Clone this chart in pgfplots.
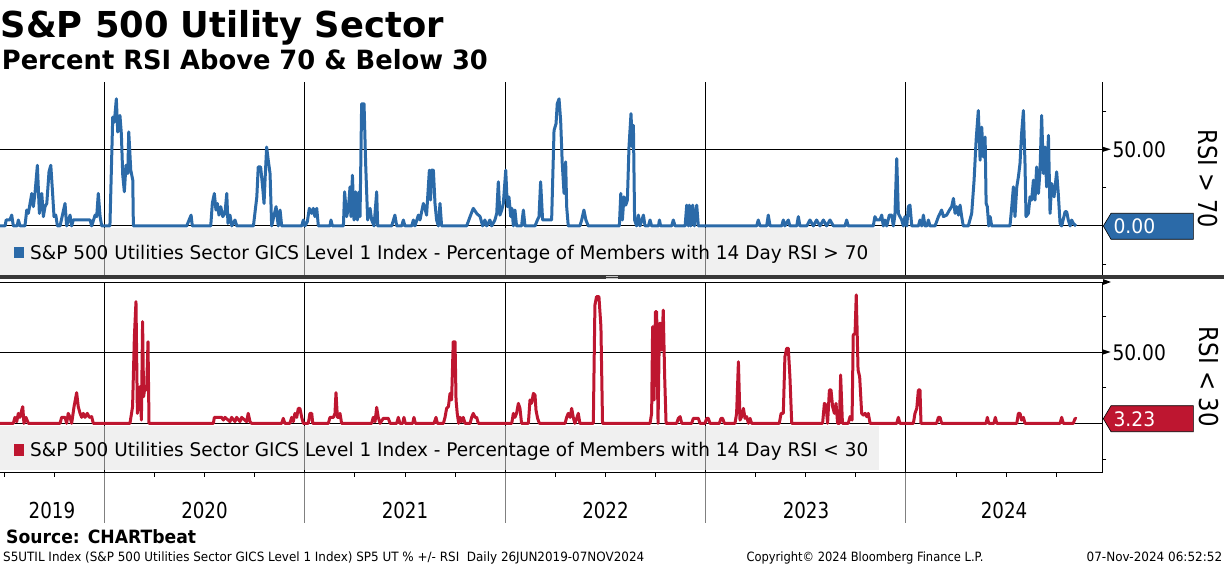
\documentclass[border=0pt]{standalone}
\usepackage{pgfplots}
\pgfplotsset{compat=1.18}
\usepackage{fontspec}
\usetikzlibrary{arrows.meta}
\setmainfont{DejaVu Sans}
\definecolor{bbblue}{RGB}{43,106,168}
\definecolor{bbred}{RGB}{190,22,48}
\definecolor{bbgray}{RGB}{227,227,227}
% text squeezed to a given width, natural height
\newcommand{\fitt}[3]{\resizebox{#1}{\height}{\fontsize{#2}{#2}\selectfont #3}}
\pgfplotsset{
  panel/.style={
    scale only axis, width=1102.3pt, anchor=south west,
    xmin=2019.4795, xmax=2024.98,
    axis x line*=bottom, axis y line*=right,
    x axis line style={-, line width=1pt},
    y axis line style={-, line width=1pt},
    xtick={2020,2021,2022,2023,2024}, xticklabels={},
    ytick={0,50}, yticklabels={},
    minor ytick={-25,25,75},
    xmajorgrids, ymajorgrids,
    major grid style={black, line width=1pt},
    major tick length=0pt, minor tick length=4pt, tick align=outside,
    tick style={black, line width=0.8pt},
  },
}
\begin{document}
\begin{tikzpicture}
\path[use as bounding box] (0pt,0pt) rectangle (1224pt,566pt);

% ---- top panel: RSI > 70
\begin{axis}[panel, at={(0pt,290.8pt)}, height=193.2pt,
  ymin=-32.1, ymax=93.9, x axis line style={draw=none}]
\addplot[bbblue, line width=3pt, line join=round] coordinates {
(2019.480,0) (2019.505,0) (2019.510,3.9) (2019.529,3.9) (2019.538,7.1) (2019.546,0) (2019.565,0) (2019.571,3.9) (2019.580,0) (2019.604,0) (2019.613,10.4) (2019.621,8.2) (2019.638,21.2) (2019.646,12.6) (2019.654,21.2) (2019.666,39.6) (2019.676,8.2) (2019.688,21.2) (2019.696,6.1) (2019.704,12.6) (2019.713,14.7) (2019.724,35.3) (2019.733,39.6) (2019.741,23.4) (2019.749,6.1) (2019.758,7.1) (2019.766,0) (2019.779,0) (2019.804,14.7) (2019.812,0) (2019.829,7.1) (2019.837,0) (2019.845,3.9) (2019.929,3.9) (2019.937,0) (2019.954,7.1) (2019.962,6.1) (2019.970,21.2) (2019.979,6.1) (2019.987,0) (2020.028,0) (2020.042,71.0) (2020.050,67.7) (2020.060,82.9) (2020.067,61.3) (2020.078,72.1) (2020.085,60.2) (2020.092,33.1) (2020.100,22.3) (2020.108,39.6) (2020.117,34.2) (2020.122,61.3) (2020.132,36.4) (2020.142,29.9) (2020.145,0) (2020.411,0) (2020.433,7.1) (2020.439,0) (2020.531,0) (2020.539,14.7) (2020.549,21.2) (2020.557,10.4) (2020.564,14.7) (2020.572,7.1) (2020.581,12.6) (2020.591,6.1) (2020.602,8.2) (2020.611,21.2) (2020.617,1.7) (2020.627,7.1) (2020.636,0) (2020.652,3.9) (2020.661,0) (2020.744,0) (2020.761,19.0) (2020.768,38.5) (2020.780,38.5) (2020.790,25.5) (2020.797,14.7) (2020.802,29.9) (2020.810,51.5) (2020.818,42.9) (2020.827,34.2) (2020.835,0) (2020.857,12.6) (2020.868,0) (2020.877,10.4) (2020.885,0) (2020.985,0) (2020.993,3.9)
(2021.001,0) (2021.013,2.8) (2021.023,11.5) (2021.035,8.2) (2021.043,11.5) (2021.051,6.1) (2021.060,11.5) (2021.068,0) (2021.126,0) (2021.131,3.9) (2021.138,0) (2021.193,0) (2021.199,22.3) (2021.209,6.1) (2021.218,11.5) (2021.226,25.5) (2021.231,6.1) (2021.238,33.1) (2021.246,3.9) (2021.254,22.3) (2021.263,3.9) (2021.271,22.3) (2021.276,6.1) (2021.284,79.7) (2021.296,79.7) (2021.304,40.7) (2021.314,3.9) (2021.326,11.5) (2021.334,3.9) (2021.346,0) (2021.359,22.3) (2021.364,0) (2021.434,0) (2021.450,7.1) (2021.459,0) (2021.484,0) (2021.492,3.9) (2021.500,0) (2021.534,0) (2021.542,3.9) (2021.550,0) (2021.567,7.1) (2021.575,3.9) (2021.592,14.7) (2021.600,11.5) (2021.608,7.1) (2021.622,36.4) (2021.628,16.9) (2021.633,36.4) (2021.642,36.4) (2021.650,14.7) (2021.658,3.9) (2021.667,0) (2021.675,14.7) (2021.683,0) (2021.808,0) (2021.825,6.1) (2021.841,11.5) (2021.858,8.2) (2021.875,6.1) (2021.888,0) (2021.899,3.9) (2021.908,0) (2021.924,3.9) (2021.933,0) (2021.949,3.9) (2021.958,8.2) (2021.966,28.8) (2021.974,7.1) (2021.983,10.4) (2021.991,14.7) (2022.003,36.4) (2022.011,12.6) (2022.019,19.0) (2022.028,6.1) (2022.034,11.5) (2022.041,0) (2022.049,10.4) (2022.057,0) (2022.082,0) (2022.091,10.4) (2022.099,0) (2022.149,0) (2022.161,3.9) (2022.169,6.1) (2022.177,28.8) (2022.187,3.9) (2022.232,3.9) (2022.244,62.3) (2022.254,66.7) (2022.260,79.7) (2022.269,82.9) (2022.277,68.8) (2022.285,40.7) (2022.294,21.2) (2022.302,41.8) (2022.307,12.6) (2022.315,0) (2022.373,0) (2022.382,3.9) (2022.393,10.4) (2022.403,3.9) (2022.415,0)
(2022.570,0) (2022.577,21.2) (2022.585,3.9) (2022.593,19.0) (2022.602,13.6) (2022.610,16.9) (2022.618,51.5) (2022.628,73.2) (2022.635,51.5) (2022.640,65.6) (2022.646,3.9) (2022.656,0) (2022.665,7.1) (2022.673,0) (2022.690,7.1) (2022.698,0) (2022.715,0) (2022.723,3.9) (2022.731,0) (2022.765,0) (2022.770,3.9) (2022.776,0) (2022.831,0) (2022.839,3.9) (2022.848,0) (2022.898,0) (2022.906,13.6) (2022.914,0) (2022.919,13.6) (2022.926,0) (2022.936,13.6) (2022.944,0) (2022.956,13.6) (2022.964,0) (2023.255,0) (2023.263,3.9) (2023.272,0) (2023.305,0) (2023.313,7.1) (2023.322,0) (2023.380,0) (2023.388,3.9) (2023.396,0) (2023.413,3.9) (2023.421,0) (2023.455,0) (2023.463,6.1) (2023.471,0) (2023.505,0) (2023.521,3.9) (2023.538,0) (2023.554,3.9) (2023.571,0) (2023.588,3.9) (2023.604,0) (2023.621,3.9) (2023.638,0) (2023.696,0) (2023.704,3.9) (2023.712,0) (2023.837,0) (2023.845,6.1) (2023.854,3.9) (2023.870,3.9) (2023.879,7.1) (2023.887,0) (2023.895,3.9) (2023.904,0) (2023.917,7.1) (2023.929,7.1) (2023.937,0) (2023.945,7.1) (2023.954,43.9) (2023.962,8.2) (2023.970,6.1)
(2023.979,3.9) (2023.987,0) (2023.995,6.1) (2024.004,0) (2024.012,12.6) (2024.020,13.6) (2024.029,0) (2024.062,0) (2024.070,3.9) (2024.079,0) (2024.087,7.1) (2024.095,0) (2024.104,0) (2024.112,3.9) (2024.120,0) (2024.145,0) (2024.162,6.1) (2024.178,10.4) (2024.187,6.1) (2024.203,7.1) (2024.217,10.4) (2024.228,12.6) (2024.237,18.0) (2024.245,8.2) (2024.253,12.6) (2024.262,7.1) (2024.270,13.6) (2024.278,6.1) (2024.286,0) (2024.311,0) (2024.328,8.2) (2024.340,29.9) (2024.350,55.8) (2024.361,75.3) (2024.370,42.9) (2024.378,64.5) (2024.386,45.0) (2024.395,58.0) (2024.400,14.7) (2024.406,12.6) (2024.413,0) (2024.420,6.1) (2024.428,0) (2024.519,0) (2024.528,12.6) (2024.536,25.5) (2024.544,6.1) (2024.553,25.5) (2024.561,32.0) (2024.569,40.7) (2024.577,60.2) (2024.586,75.3) (2024.594,40.7) (2024.599,6.1) (2024.611,8.2) (2024.619,19.0) (2024.627,16.9) (2024.636,29.9) (2024.644,16.9) (2024.652,38.5) (2024.661,21.2) (2024.669,36.4) (2024.677,72.1) (2024.686,34.2) (2024.694,51.5) (2024.702,25.5) (2024.711,59.1) (2024.719,8.2) (2024.727,27.7) (2024.739,19.0) (2024.752,35.3) (2024.760,21.2) (2024.769,1.7) (2024.777,0) (2024.794,9.3) (2024.802,9.3) (2024.810,3.9) (2024.819,0) (2024.827,3.9) (2024.835,1.7) (2024.849,0)
};
\end{axis}
\fill[bbgray, fill opacity=0.53] (0pt,291pt) rectangle (880pt,337.5pt);
\fill[bbblue] (14pt,307.7pt) rectangle (23.5pt,319.3pt);
\node[anchor=base west, inner sep=0pt] at (30pt,306.7pt) {\fitt{838pt}{18.8pt}{S\&P 500 Utilities Sector GICS Level 1 Index - Percentage of Members with 14 Day RSI > 70}};

% ---- bottom panel: RSI < 30
\begin{axis}[panel, at={(0pt,93.3pt)}, height=190.7pt,
  ymin=-34.6, ymax=99.1,
  minor xtick={2019.5,2019.75,2020.25,2020.5,2020.75,2021.25,2021.5,2021.75,2022.25,2022.5,2022.75,2023.25,2023.5,2023.75,2024.25,2024.5,2024.75}]
\addplot[bbred, line width=3pt, line join=round] coordinates {
(2019.480,0) (2019.546,0) (2019.554,4.2) (2019.563,1.2) (2019.571,7.0) (2019.579,4.2) (2019.588,9.3) (2019.593,11.7) (2019.599,0) (2019.609,4.2) (2019.621,0) (2019.779,0) (2019.787,4.2) (2019.804,4.2) (2019.812,0) (2019.820,7.0) (2019.829,4.2) (2019.837,0) (2019.849,11.7) (2019.862,21.5) (2019.870,11.7) (2019.879,7.0) (2019.887,4.2) (2019.895,7.0) (2019.904,4.2) (2019.915,7.0) (2019.925,4.2) (2019.937,4.7) (2019.945,0) (2020.128,0) (2020.141,11.7) (2020.150,60.7) (2020.158,85.3) (2020.165,7.0) (2020.171,14.0) (2020.178,25.7) (2020.185,2.3) (2020.191,71.3) (2020.196,18.7) (2020.203,25.7) (2020.211,23.4) (2020.218,57.2) (2020.223,0) (2020.544,0) (2020.549,4.2) (2020.585,4.2) (2020.594,2.3) (2020.602,4.2) (2020.627,1.2) (2020.635,4.2) (2020.652,1.2) (2020.660,4.2) (2020.677,1.2) (2020.685,4.2) (2020.710,1.2) (2020.718,7.0) (2020.727,1.2) (2020.735,0) (2020.885,0) (2020.893,3.5) (2020.901,0) (2020.926,0) (2020.935,4.2) (2020.943,1.2) (2020.951,7.0) (2020.960,4.2) (2020.968,10.5) (2020.976,10.5) (2020.985,4.2) (2020.993,0)
(2021.018,0) (2021.026,7.0) (2021.035,7.0) (2021.040,0) (2021.118,0) (2021.126,4.2) (2021.143,4.2) (2021.151,7.0) (2021.156,21.5) (2021.163,4.2) (2021.171,4.2) (2021.176,7.0) (2021.184,0) (2021.334,0) (2021.342,4.2) (2021.351,1.2) (2021.359,11.2) (2021.367,4.2) (2021.376,0) (2021.392,3.5) (2021.417,3.5) (2021.426,0) (2021.459,0) (2021.467,4.2) (2021.475,0) (2021.489,0) (2021.495,4.2) (2021.502,0) (2021.539,0) (2021.545,4.2) (2021.552,0) (2021.645,0) (2021.655,4.2) (2021.662,0) (2021.692,0) (2021.700,4.2) (2021.708,10.5) (2021.717,11.7) (2021.725,21.0) (2021.733,16.4) (2021.741,57.2) (2021.750,57.2) (2021.755,16.4) (2021.761,7.0) (2021.768,0) (2021.775,4.2) (2021.783,1.2) (2021.791,4.2) (2021.800,0) (2021.825,0) (2021.833,4.2) (2021.841,7.0) (2021.850,4.2) (2021.858,4.2) (2021.866,0) (2022.033,0) (2022.041,7.0) (2022.049,4.2) (2022.057,7.0) (2022.066,14.0) (2022.074,10.5) (2022.082,0) (2022.116,0) (2022.124,16.4) (2022.132,14.0) (2022.141,21.0) (2022.149,19.9) (2022.154,9.3) (2022.162,3.5) (2022.171,0) (2022.299,0) (2022.307,4.2) (2022.315,7.0) (2022.324,4.2) (2022.332,10.5) (2022.340,4.2) (2022.348,0) (2022.357,3.5) (2022.365,7.0) (2022.373,0) (2022.440,0) (2022.448,82.9) (2022.456,88.8) (2022.468,88.8) (2022.478,67.8) (2022.486,0)
(2022.723,0) (2022.731,7.0) (2022.736,67.8) (2022.743,16.4) (2022.750,78.3) (2022.756,78.3) (2022.763,0) (2022.770,70.1) (2022.776,70.1) (2022.781,51.4) (2022.789,79.4) (2022.796,32.7) (2022.803,0) (2022.856,0) (2022.864,3.5) (2022.873,4.7) (2022.881,0) (2022.931,0) (2022.939,3.5) (2022.964,3.5) (2022.972,0) (2022.997,0) (2023.006,3.5) (2023.014,3.5) (2023.022,0) (2023.069,0) (2023.077,3.5) (2023.085,3.5) (2023.094,0) (2023.147,0) (2023.155,7.0) (2023.164,43.2) (2023.172,2.3) (2023.180,4.7) (2023.189,10.5) (2023.197,3.5) (2023.205,4.7) (2023.214,0) (2023.222,3.5) (2023.230,0) (2023.368,0) (2023.377,7.0) (2023.388,7.0) (2023.396,46.7) (2023.405,52.6) (2023.413,52.6) (2023.421,32.7) (2023.430,0) (2023.584,0) (2023.593,14.0) (2023.601,12.9) (2023.609,0) (2023.618,23.4) (2023.626,23.4) (2023.634,11.7) (2023.643,7.0) (2023.651,14.0) (2023.659,0) (2023.668,0) (2023.674,33.9) (2023.683,0) (2023.712,0) (2023.721,4.7) (2023.731,2.3) (2023.737,61.9) (2023.746,63.1) (2023.752,90.0) (2023.761,37.4) (2023.769,32.7) (2023.779,7.0) (2023.787,5.8) (2023.796,7.0) (2023.804,4.7) (2023.812,7.0) (2023.821,0) (2023.954,0) (2023.962,4.2) (2023.970,0)
(2024.037,0) (2024.045,7.0) (2024.054,10.5) (2024.062,23.4) (2024.070,23.4) (2024.075,0) (2024.153,0) (2024.162,4.2) (2024.170,4.2) (2024.178,0) (2024.400,0) (2024.406,4.2) (2024.413,0) (2024.439,0) (2024.446,4.2) (2024.453,0) (2024.553,0) (2024.561,7.0) (2024.569,7.0) (2024.577,2.3) (2024.586,4.2) (2024.594,0) (2024.769,0) (2024.777,4.2) (2024.785,0) (2024.835,0) (2024.844,3.5) (2024.852,3.23)
};
\end{axis}
\fill[bbgray, fill opacity=0.53] (0pt,96pt) rectangle (879pt,140.5pt);
\fill[bbred] (14pt,110.5pt) rectangle (23.5pt,122.1pt);
\node[anchor=base west, inner sep=0pt] at (30pt,109.5pt) {\fitt{838pt}{18.8pt}{S\&P 500 Utilities Sector GICS Level 1 Index - Percentage of Members with 14 Day RSI < 30}};

% ---- panel separator and frame bits
\fill[black!78] (0pt,286.7pt) rectangle (1224pt,290.8pt);
\draw[gray!45, line width=0.7pt] (606pt,289.4pt) -- (618pt,289.4pt) (606pt,287.8pt) -- (618pt,287.8pt);
\draw[line width=1pt, -{Triangle[length=8pt,width=5.5pt]}] (0pt,284pt) -- (1111pt,284pt);
\foreach \xx in {104.3,304.7,505.1,705.5,905.9}
  \draw[gray, line width=1pt] (\xx pt,93.3pt) -- (\xx pt,43pt);

% ---- right-hand labels
\fill (1102.7pt,419.3pt) -- (1110.7pt,416.7pt) -- (1102.7pt,414.1pt) -- cycle;
\fill (1102.7pt,216.6pt) -- (1110.7pt,214pt) -- (1102.7pt,211.4pt) -- cycle;
\node[anchor=base west, inner sep=0pt] at (1112.3pt,408.7pt) {\fitt{53.4pt}{21.4pt}{50.00}};
\node[anchor=base west, inner sep=0pt] at (1112.3pt,206pt) {\fitt{53.4pt}{21.4pt}{50.00}};
\filldraw[fill=bbblue, draw=black, line width=0.6pt] (1103.3pt,340pt) -- (1111pt,352.7pt) -- (1193.3pt,352.7pt) -- (1193.3pt,326.7pt) -- (1111pt,326.7pt) -- cycle;
\node[anchor=base west, inner sep=0pt, white] at (1113.3pt,332pt) {\fitt{41.7pt}{20pt}{0.00}};
\filldraw[fill=bbred, draw=black, line width=0.6pt] (1103.3pt,147.3pt) -- (1111pt,160.3pt) -- (1193.3pt,160.3pt) -- (1193.3pt,134.3pt) -- (1111pt,134.3pt) -- cycle;
\node[anchor=base west, inner sep=0pt, white] at (1113.3pt,140pt) {\fitt{41.7pt}{20pt}{3.23}};
\node[rotate=-90, inner sep=0pt] at (1208pt,387pt) {\fitt{98pt}{26pt}{RSI > 70}};
\node[rotate=-90, inner sep=0pt] at (1209pt,189.3pt) {\fitt{100pt}{26pt}{RSI < 30}};

% ---- year labels
\foreach \xx/\yy in {52/2019,204.5/2020,405/2021,605.5/2022,806/2023,1004/2024}
  \node[anchor=base, inner sep=0pt] at (\xx pt,47.3pt) {\fitt{46.5pt}{22pt}{\yy}};

% ---- titles and footer
\node[anchor=base west, inner sep=0pt] at (0.5pt,528.5pt) {\fitt{443pt}{35.7pt}{\bfseries S\&P 500 Utility Sector}};
\node[anchor=base west, inner sep=0pt] at (1.7pt,496pt) {\fitt{486pt}{26.5pt}{\bfseries Percent RSI Above 70 \& Below 30}};
\node[anchor=base west, inner sep=0pt] at (6pt,22.7pt) {\fitt{190pt}{18.3pt}{\bfseries Source: CHARTbeat}};
\node[anchor=base west, inner sep=0pt] at (3pt,4.3pt) {\fitt{641pt}{12.8pt}{S5UTIL Index (S\&P 500 Utilities Sector GICS Level 1 Index) SP5 UT \% +/- RSI\ \ Daily 26JUN2019-07NOV2024}};
\node[anchor=base west, inner sep=0pt] at (746.3pt,4.3pt) {\fitt{237pt}{12.8pt}{Copyright© 2024 Bloomberg Finance L.P.}};
\node[anchor=base west, inner sep=0pt] at (1086.4pt,4.3pt) {\fitt{135.6pt}{12.8pt}{07-Nov-2024 06:52:52}};
\end{tikzpicture}
\end{document}
